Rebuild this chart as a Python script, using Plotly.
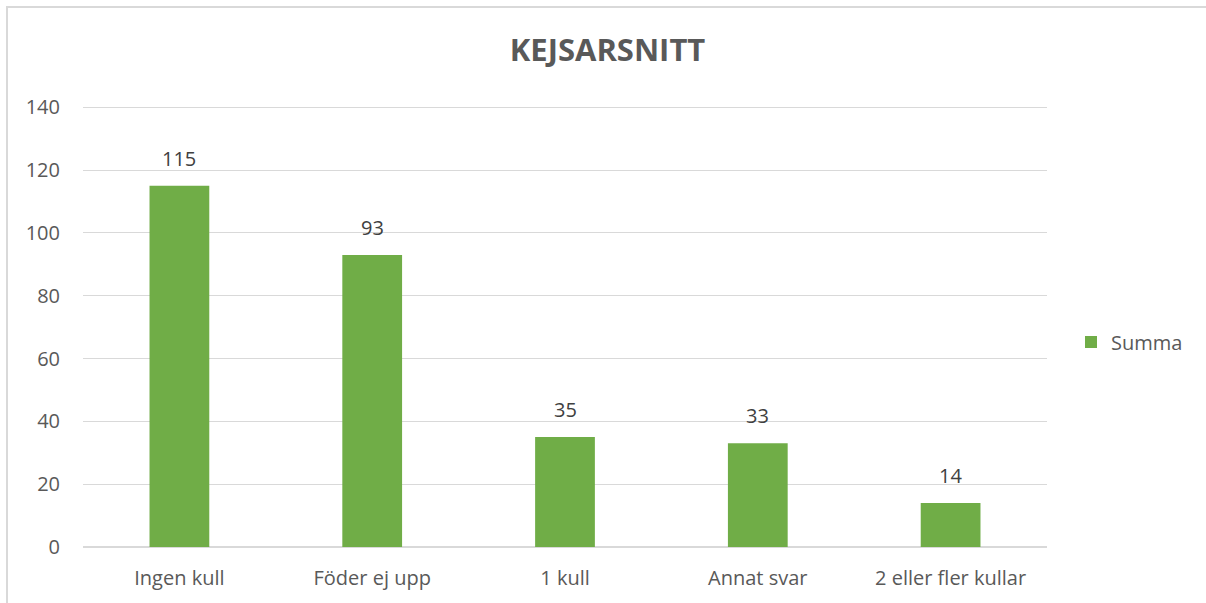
import plotly.graph_objects as go

categories = ["Ingen kull", "Föder ej upp", "1 kull", "Annat svar", "2 eller fler kullar"]
values = [115, 93, 35, 33, 14]
series_name = "Summa"
title_text = "KEJSARSNITT"
y_ticks = [0, 20, 40, 60, 80, 100, 120, 140]
y_max = 142

W, H = 1206, 603
L, R, T, B = 83, 159, 101, 56
pw, ph = W - L - R, H - T - B

def px_x(x):
    return (x - L) / pw

def px_y(y):
    return (H - B - y) / ph

fig = go.Figure()
fig.add_trace(go.Bar(
    x=categories, y=values, name=series_name,
    marker=dict(color="#70ad47", line=dict(width=0)),
    showlegend=True,
))

# value labels above each bar
for c, v in zip(categories, values):
    fig.add_annotation(x=c, y=v, text=str(v), showarrow=False,
                       yanchor="bottom", yshift=12,
                       font=dict(size=20, color="#404040"))

fig.update_layout(
    width=W, height=H,
    margin=dict(l=L, r=R, t=T, b=B),
    paper_bgcolor="white", plot_bgcolor="white",
    font=dict(family="Open Sans, sans-serif", color="#595959", size=20),
    bargap=0.69,
    title=dict(text="<b>" + title_text + "</b>", x=607.5 / W, xanchor="center",
               y=1 - 50 / H, yanchor="middle",
               font=dict(size=31, color="#595959")),
    xaxis=dict(showgrid=False, showline=False, ticks="", tickfont=dict(size=20),
               ticklabelstandoff=17),
    yaxis=dict(range=[0, y_max], tickvals=y_ticks, showgrid=True, gridcolor="#d9d9d9",
               gridwidth=1, zeroline=True, zerolinecolor="#d9d9d9", zerolinewidth=1.5,
               showline=False, ticks="", ticklabelstandoff=22, tickfont=dict(size=20)),
    legend=dict(x=px_x(1071), xanchor="left", y=px_y(342), yanchor="middle",
                font=dict(size=20, color="#595959"), itemwidth=30,
                bgcolor="rgba(0,0,0,0)"),
    shapes=[dict(type="rect", xref="paper", yref="paper",
                 x0=px_x(7), x1=px_x(W + 10), y0=px_y(H + 10), y1=px_y(7),
                 line=dict(color="#d9d9d9", width=2), fillcolor="rgba(0,0,0,0)",
                 layer="below")],
)

fig.write_html("out.html")
